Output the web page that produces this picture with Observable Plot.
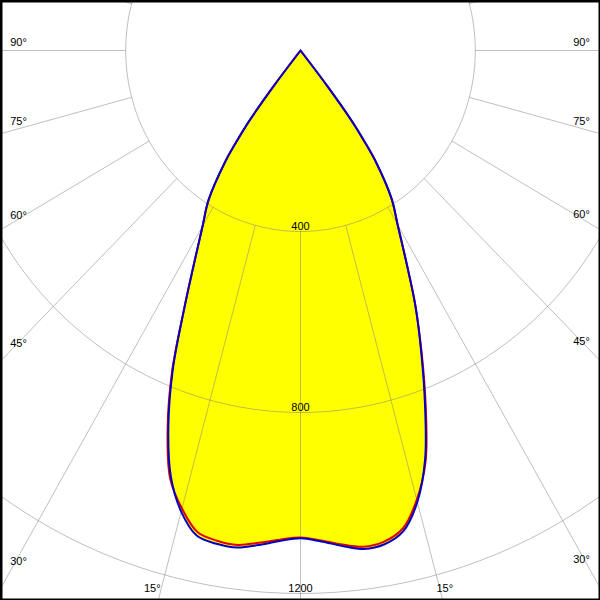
<!DOCTYPE html>
<html>
<head>
<meta charset="utf-8">
<script src="https://cdn.jsdelivr.net/npm/d3@7"></script>
<script src="https://cdn.jsdelivr.net/npm/@observablehq/plot@0.6"></script>
<style>
html, body { margin: 0; padding: 0; background: white; overflow: hidden; }
#chart svg { display: block; }
</style>
</head>
<body>
<div id="chart"></div>
<script>
// Gamma angles (degrees from nadir) and luminous intensities (cd)
const gamma = [0, 2.5, 5, 7.5, 10, 12.5, 15, 17.5, 20, 22.5, 25, 27.5, 30, 32.5, 35, 36, 37, 38, 39];
// C0 (right) / C180 (left) plane — red
const c0   = [1076, 1084, 1096, 1106, 1102, 1082, 1028, 952, 838, 725, 622, 522, 444, 387, 301, 251, 195, 99, 0];
const c180 = [1076, 1082, 1092, 1102, 1100, 1090, 1048, 992, 889, 768, 630, 525, 448, 391, 301, 251, 195, 99, 0];
// C90 (right) / C270 (left) plane — blue
const c90  = [1078, 1086, 1099, 1111, 1108, 1088, 1033, 948, 833, 722, 622, 522, 445, 388, 302, 252, 196, 100, 0];
const c270 = [1078, 1085, 1097, 1108, 1107, 1098, 1055, 987, 884, 764, 630, 525, 448, 392, 302, 252, 196, 100, 0];

const rings = [400, 800, 1200, 1600];
const ringLabels = ["400", "800", "1200"];
const sideAngles = [90, 75, 60, 45, 30];
const bottomAngles = [15];

// layout (pixels)
const W = 600, H = 600, cx = 300, cy = 50;
const rx = 0.437, ry = 0.4525; // px per cd horizontally / vertically
const rad = d => d * Math.PI / 180;

function planePoints(left, right, name) {
  const pts = [];
  for (let i = gamma.length - 1; i >= 0; i--)
    pts.push({x: -left[i] * Math.sin(rad(gamma[i])), y: left[i] * Math.cos(rad(gamma[i])), name});
  for (let i = 1; i < gamma.length; i++)
    pts.push({x: right[i] * Math.sin(rad(gamma[i])), y: right[i] * Math.cos(rad(gamma[i])), name});
  return pts;
}
const red = planePoints(c180, c0, "C0-C180");
const blue = planePoints(c270, c90, "C90-C270");

const ringPts = rings.flatMap(r => d3.range(0, 361, 2).map(t => ({r, x: r * Math.sin(rad(t)), y: r * Math.cos(rad(t))})));
const spokes = d3.range(-180, 181, 15).map(a => ({
  x1: 400 * Math.sin(rad(a)), y1: 400 * Math.cos(rad(a)),
  x2: 3000 * Math.sin(rad(a)), y2: 3000 * Math.cos(rad(a))
}));

const ringText = ringLabels.map((t, i) => ({t, x: 0, y: rings[i] - 5 / ry}));

const xL = (18 - cx) / rx, xR = (W - 19 - cx) / rx;
const nudge = a => (-8 * Math.pow(Math.sin(rad(a)), 4) + 10 * Math.pow(Math.cos(rad(a)), 4)) / ry;
const sideText = sideAngles.flatMap(a => {
  const yy = Math.abs(xL) / Math.tan(rad(a)) + nudge(a);
  const yyR = Math.abs(xR) / Math.tan(rad(a)) + nudge(a);
  return [{t: a + "°", x: xL, y: yy}, {t: a + "°", x: xR, y: yyR}];
});
const yB = (588 - cy) / ry;
const bottomText = bottomAngles.flatMap(a => {
  const xx = yB * Math.tan(rad(a));
  return [{t: a + "°", x: -xx - 9 / rx, y: yB}, {t: a + "°", x: xx + 5 / rx, y: yB}];
});

const font = {fontFamily: "Liberation Sans, Arial, sans-serif", fontSize: 11, fill: "black"};
const grid = {stroke: "#808080", strokeOpacity: 0.5, strokeWidth: 1, clip: true};

const plot = Plot.plot({
  width: W, height: H,
  marginTop: 0, marginRight: 0, marginBottom: 0, marginLeft: 0,
  x: {domain: [-cx / rx, (W - cx) / rx], range: [0, W], axis: null},
  y: {domain: [-cy / ry, (H - cy) / ry], range: [0, H], axis: null},
  style: {background: "white", overflow: "hidden"},
  marks: [
    Plot.line(blue, {x: "x", y: "y", fill: "#ffff00", stroke: "none", curve: "catmull-rom", clip: true}),
    Plot.line(ringPts, {x: "x", y: "y", z: "r", ...grid}),
    Plot.link(spokes, {x1: "x1", y1: "y1", x2: "x2", y2: "y2", ...grid}),
    Plot.text(ringText, {x: "x", y: "y", text: "t", ...font}),
    Plot.text(sideText, {x: "x", y: "y", text: "t", ...font}),
    Plot.text(bottomText, {x: "x", y: "y", text: "t", ...font}),
    Plot.line(red, {x: "x", y: "y", stroke: "#e00000", strokeWidth: 2, curve: "catmull-rom", clip: true}),
    Plot.line(blue, {x: "x", y: "y", stroke: "#0000c8", strokeWidth: 2, curve: "catmull-rom", clip: true}),
    Plot.frame({stroke: "black", strokeWidth: 4})
  ]
});
document.getElementById("chart").appendChild(plot);
</script>
</body>
</html>
